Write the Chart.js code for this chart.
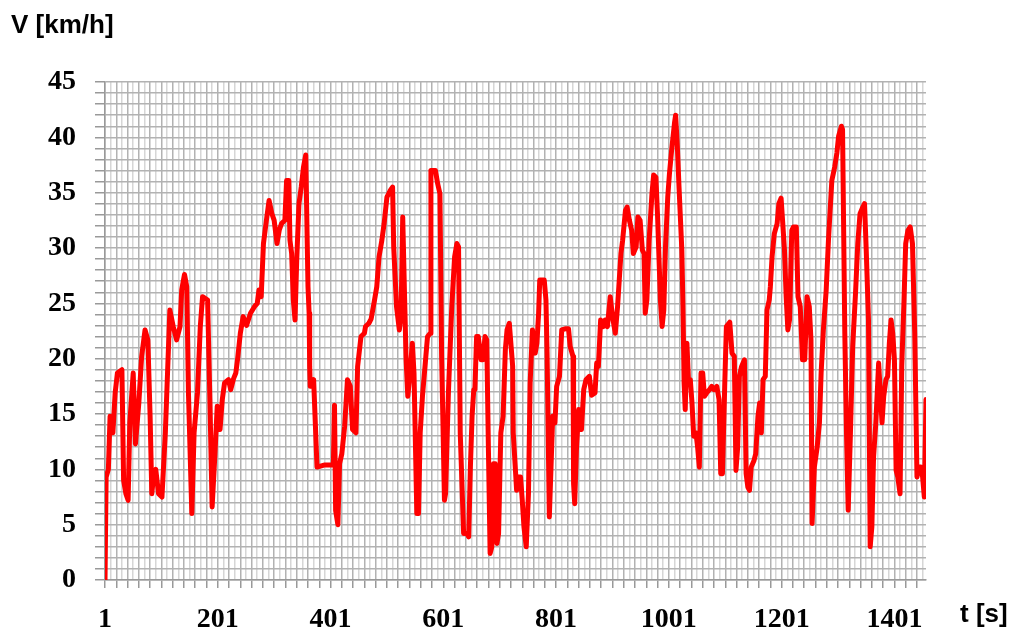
<!DOCTYPE html>
<html>
<head>
<meta charset="utf-8">
<script src="https://cdn.jsdelivr.net/npm/chart.js@4.4.1/dist/chart.umd.min.js"></script>
<style>
html,body{margin:0;padding:0;background:#fff;}
#wrap{width:1013px;height:634px;}
</style>
</head>
<body>
<div id="wrap"><canvas id="c" width="1013" height="634"></canvas></div>
<script>
// time [s]
const times = [1,3,7,10,15,19,23,31,34,38,42,45,51,55,61,66,72,77,81,84,87,91,96,102,108,116,122,128,134,137,142,146,149,155,159,165,170,174,183,187,191,196,200,205,209,213,220,224,229,233,236,241,246,252,259,266,271,274,278,282,288,292,297,301,306,310,314,320,323,327,329,332,335,338,341,345,349,353,357,
361,363,364,365,371,377,391,406,408,410,414,417,421,426,431,436,440,446,449,455,461,463,469,473,479,483,487,492,496,501,507,511,513,518,523,526,529,532,535,538,542,546,549,554,557,560,564,570,573,578,579,587,591,595,598,603,605,610,616,621,625,628,629,631,637,643,646,649,652,655,657,660,663,668,671,675,678,681,684,687,690,693,696,699,703,707,711,714,718,
724,725,731,734,738,741,744,748,752,755,759,764,767,770,772,780,783,785,789,792,795,799,802,807,811,817,823,826,831,832,834,837,841,846,850,854,860,864,870,873,876,880,885,888,892,897,901,906,910,913,916,919,924,927,931,935,938,943,946,950,954,957,959,962,966,971,974,978,981,986,989,992,995,999,1002,1006,1011,1013,1016,1019,1024,1026,1028,1030,1033,1036,1039,1042,1045,1049,1052,1055,1058,1061,1064,1068,1073,1077,1081,
1086,1090,1093,1096,1100,1103,1109,1113,1117,1120,1123,1126,1130,1135,1138,1141,1144,1147,1152,1155,1159,1162,1165,1168,1172,1175,1179,1181,1184,1188,1193,1196,1200,1203,1206,1209,1212,1215,1219,1222,1227,1230,1234,1238,1242,1246,1250,1253,1255,1259,1264,1268,1271,1275,1280,1284,1287,1290,1295,1299,1302,1307,1309,1313,1316,1319,1323,1327,1332,1336,1340,1345,1348,1351,1355,1358,1361,1364,1368,1373,1376,1379,1382,1386,1389,1392,1395,1398,1401,1404,1407,1411,1414,1418,1421,1425,1429,1433,1437,1441,1444,1448,1451,1454,1457];

// speed [km/h]
const speeds = [0,9.3,10,14.8,13.3,16.9,18.7,19,9,7.8,7.2,14.2,18.7,12.3,16,20.2,22.6,21.7,14.8,7.8,9.3,10,7.8,7.5,13.3,24.4,22.9,21.7,22.9,26.2,27.6,26.5,16.9,6,13.3,16.9,22.9,25.6,25.3,16.3,6.6,11.4,15.7,13.6,16.3,17.8,18.1,17.2,18.2,18.7,19.9,22.3,23.8,23,24.1,24.7,25,26.2,25.6,30.4,32.8,34.3,33.1,32.5,30.4,31.6,32.2,32.5,36.1,36.1,30.7,29.5,25.3,23.5,28.9,34,35.5,37.3,38.4,
26.5,24.1,19.3,17.5,18.1,10.2,10.4,10.4,15.8,6.3,5,10.5,11.4,13.9,18.1,17.5,13.6,13.3,19.3,22,22.3,22.9,23.2,23.6,25.3,26.5,29.2,30.7,32.2,34.6,35.2,35.5,30.1,24.7,22.6,23.8,32.8,26.2,19.9,16.6,18.7,21.4,18.7,6,6,13.3,16.6,20.2,22,22.3,37,37,35.8,34.9,20.2,7.2,7.8,16.9,24.7,29.2,30.4,30.1,24.4,13.3,4.2,4.2,3.9,10.2,14.8,17.2,17.2,22,22,19.9,19.9,22,21.7,11.7,2.4,3,10.5,10.5,3.3,4.2,13.3,14.8,20.8,22.6,23.2,
19.3,13.3,8.1,9.3,9.3,7.2,4.8,3,7.8,17.8,22.6,20.5,21.4,24.1,27.1,27.1,25.3,20.5,5.7,10.2,14.8,14.2,17.5,18.4,22.6,22.7,22.7,21.1,20.2,8.7,6.9,11.7,15.4,13.6,17.2,18.1,18.4,16.7,16.9,19.6,19.3,23.5,22.9,23.5,22.9,25.6,23.8,22.3,24.7,27.1,29.5,30.7,33.4,33.7,32.5,31.6,29.5,30.1,32.8,32.5,29.8,29.5,24.1,25.3,30.7,34.9,36.6,36.4,32.8,25.3,22.9,24.4,30.1,34.6,36.7,38.9,41.3,42,39.2,35.5,29.8,24.7,17.8,15.4,21.4,17.8,18.1,16,13,13.3,12,10.2,18.7,18.7,16.6,16.9,17.2,17.5,17.2,
17.5,16.3,9.6,9.6,17.5,22.9,23.3,20.5,20.2,9.9,12,18.4,19.3,19.9,9.6,8.4,8.1,10.2,10.8,11.4,14.8,16,13.3,18.1,18.4,24.4,25.3,26.5,29.2,31.3,32.2,34,34.5,32.2,29.8,25.6,22.6,23.5,31.6,31.9,31.9,25.6,24.7,19.9,19.9,25.6,24.7,21.7,5.1,10.2,12,14.2,18.7,22.6,26.2,30.7,33.4,36.1,37.3,38.6,40.1,41,40.7,22.3,13.3,6.3,13.3,21.1,25.9,30.4,33.1,33.7,34,29.8,23.5,3,4.8,11.1,14.2,19.6,16.9,14.2,16.6,18.1,18.4,21.4,23.5,22.3,19.9,9.9,9.3,7.8,19.3,25.3,30.4,31.6,31.9,30.4,22.3,9.3,10.2,10.2,9.3,7.5,16.3];

// axis ticks
const xTickLabels = [1,201,401,601,801,1001,1201,1401];
const yTickLabels = [0,5,10,15,20,25,30,35,40,45];
const xMin = 1, xMax = 1457, xGridStep = 10;
const yMin = 0, yMax = 45;

const points = times.map((t, i) => ({x: t, y: speeds[i]}));

const textPlugin = {
  id: 'axisTitles',
  afterDraw(chart) {
    const ctx = chart.ctx;
    ctx.save();
    ctx.fillStyle = '#000';
    ctx.font = "bold 26px 'Liberation Sans', Arial, sans-serif";
    ctx.textBaseline = 'alphabetic';
    ctx.textAlign = 'left';
    ctx.fillText('V [km/h]', 11, 33);
    ctx.fillText('t [s]', 960, 622);
    ctx.restore();
  }
};

const darkGrid = '#b2b2b2';
const lightGrid = '#d6d6d6';
const serifFont = {family: "'Liberation Serif', 'Times New Roman', serif", weight: 'bold', size: 28};

new Chart(document.getElementById('c'), {
  type: 'line',
  data: {
    datasets: [{
      data: points,
      borderColor: '#ff0000',
      borderWidth: 5,
      pointRadius: 0,
      tension: 0,
      borderJoinStyle: 'round',
      borderCapStyle: 'round',
      fill: false
    }]
  },
  options: {
    responsive: false,
    animation: false,
    devicePixelRatio: 1,
    layout: {padding: {top: 82, right: 87, left: 0, bottom: 0}},
    plugins: {legend: {display: false}, tooltip: {enabled: false}, title: {display: false}},
    scales: {
      x: {
        type: 'linear',
        min: xMin,
        max: xMax,
        afterBuildTicks(axis) {
          const arr = [];
          for (let v = xMin; v <= xMax; v += xGridStep) arr.push({value: v});
          axis.ticks = arr;
        },
        afterFit(scale) { scale.height = 54; },
        ticks: {
          autoSkip: false,
          maxRotation: 0,
          minRotation: 0,
          padding: 15,
          color: '#000',
          font: serifFont,
          callback: (v) => xTickLabels.includes(v) ? String(v) : ''
        },
        grid: {
          color: (c) => (c.tick && (c.tick.value - 1) % 20 === 0) ? darkGrid : lightGrid,
          lineWidth: 1.5,
          tickLength: 8,
          tickColor: (c) => (c.tick && (c.tick.value - 1) % 20 === 0) ? '#999' : 'rgba(0,0,0,0)',
          tickWidth: 1.5
        },
        border: {color: '#999', width: 1.5}
      },
      y: {
        type: 'linear',
        min: yMin,
        max: yMax,
        afterFit(scale) { scale.width = 105; },
        ticks: {
          stepSize: 1,
          autoSkip: false,
          padding: 19,
          color: '#000',
          font: serifFont,
          callback: (v) => yTickLabels.includes(v) ? String(v) : ''
        },
        grid: {
          color: darkGrid,
          lineWidth: 1.5,
          tickLength: 10,
          tickColor: '#999',
          tickWidth: 1.5
        },
        border: {color: '#999', width: 1.5}
      }
    }
  },
  plugins: [textPlugin]
});
</script>
</body>
</html>
